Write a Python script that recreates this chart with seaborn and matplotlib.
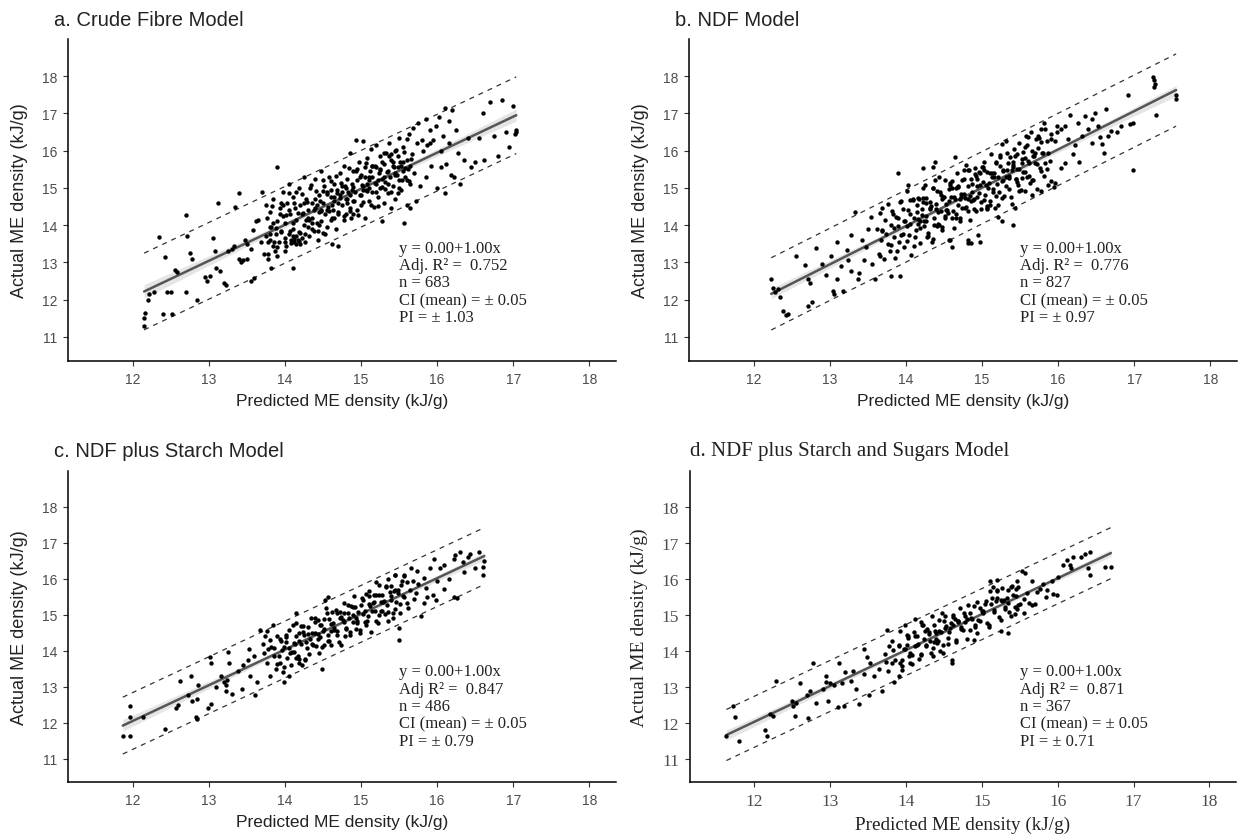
import numpy as np
import pandas as pd
import seaborn as sns
import matplotlib.pyplot as plt

# === SETTINGS ===
sns.set_theme(style="ticks")
plt.rcParams["font.family"] = ["Liberation Sans", "DejaVu Sans"]

W, H = 1241, 837
SANS = ["Liberation Sans", "DejaVu Sans"]
SERIF = ["Liberation Serif", "DejaVu Serif"]

# === DATA ===
TITLES = ["a. Crude Fibre Model", "b. NDF Model",
          "c. NDF plus Starch Model", "d. NDF plus Starch and Sugars Model"]
ADJ_TEXT = ["Adj.", "Adj.", "Adj", "Adj"]
ADJ_R2 = [0.752, 0.776, 0.847, 0.871]
N_OBS = [683, 827, 486, 367]
CI_MEAN = [0.05, 0.05, 0.05, 0.05]
PI_HALF = [1.03, 0.97, 0.79, 0.71]
INTERCEPT = [0.00, 0.00, 0.00, 0.00]
SLOPE = [1.00, 1.00, 1.00, 1.00]

X_TICKS = [12, 13, 14, 15, 16, 17, 18]
Y_TICKS = [11, 12, 13, 14, 15, 16, 17, 18]

# (predicted, actual) ME density, kJ/g
CRUDE_FIBRE = [
    (12.15,11.28),(12.15,11.5),(12.16,11.65),(12.2,12.0),(12.22,12.15),(12.28,12.2),(12.35,13.68),(12.4,11.6),
    (12.43,13.15),(12.45,12.2),(12.5,12.2),(12.52,11.6),(12.55,12.8),(12.58,12.75),(12.7,14.28),(12.7,12.2),
    (12.72,13.7),(12.75,13.25),(12.78,13.1),(12.85,12.0),(12.95,12.6),(12.98,12.5),(13.02,12.62),(13.05,13.65),
    (13.08,13.3),(13.1,12.85),(13.12,14.6),(13.15,12.78),(13.2,12.45),(13.22,12.4),(13.25,13.3),(13.3,13.35),
    (13.33,13.45),(13.35,14.5),(13.4,14.85),(13.4,13.1),(13.42,13.0),(13.45,13.05),(13.47,13.6),(13.5,13.5),
    (13.5,13.1),(13.55,12.5),(13.55,13.35),(13.58,13.88),(13.6,12.58),(13.62,14.12),(13.65,14.15),(13.68,13.55),
    (13.7,14.9),
    (13.72,13.22),(13.75,13.7),(13.75,14.55),(13.78,13.1),(13.8,13.6),(13.8,14.35),(13.82,12.85),(13.82,13.95),
    (13.85,13.45),(13.85,14.7),(13.87,13.3),(13.88,13.75),(13.9,15.55),(13.9,14.1),(13.92,13.55),(13.93,14.45),
    (13.95,13.85),(13.97,14.25),(13.98,14.9),(14.0,13.65),(14.0,14.05),
    (14.02,13.45),(14.03,14.6),(14.05,13.75),(14.05,15.1),(14.07,14.3),(14.08,13.6),(14.1,12.85),(14.1,13.9),
    (14.1,14.75),(14.12,13.55),(14.13,14.45),(14.15,13.7),(14.15,14.15),(14.17,13.6),(14.18,15.0),(14.2,13.8),
    (14.2,14.55),(14.22,13.65),(14.23,14.3),(14.25,14.0),(14.25,15.3),(14.27,13.55),(14.28,14.7),(14.3,13.95),
    (14.3,14.4),
    (14.32,13.7),(14.33,15.0),(14.35,14.2),(14.36,14.6),(14.38,13.85),(14.4,14.45),(14.4,15.25),(14.42,14.05),
    (14.43,13.6),(14.45,14.8),(14.45,14.35),(14.47,15.45),(14.48,14.1),(14.5,14.6),(14.5,13.8),(14.52,15.05),
    (14.53,14.3),(14.55,14.9),(14.55,13.95),(14.57,14.5),(14.58,15.3),(14.6,14.15),(14.6,14.75),
    (14.62,13.5),(14.63,14.4),(14.65,15.1),(14.65,14.65),(14.67,13.9),(14.68,14.95),(14.7,13.45),(14.7,14.3),
    (14.72,15.4),(14.73,14.8),(14.75,14.55),(14.75,15.05),(14.77,14.15),(14.78,15.6),(14.8,14.7),(14.8,14.3),
    (14.82,15.25),(14.83,14.9),(14.85,14.45),(14.85,15.95),(14.87,14.2),(14.88,15.1),(14.9,14.65),(14.9,15.45),
    (14.92,14.9),(14.93,16.3),(14.95,14.4),(14.95,15.2),(14.97,15.7),(14.98,14.8),(15.0,15.35),(15.0,14.55),
    (15.02,15.05),(15.03,16.25),(15.05,14.2),(15.05,15.55),(15.07,14.95),(15.08,15.8),(15.1,15.2),(15.1,14.65),
    (15.12,15.45),(15.13,16.05),(15.15,14.9),(15.15,15.3),(15.17,14.5),(15.18,15.6),(15.2,15.1),(15.2,16.15),
    (15.22,14.75),(15.23,15.4),(15.25,15.85),(15.25,15.0),(15.27,14.1),(15.28,15.25),(15.3,15.65),(15.3,14.6),
    (15.32,15.15),(15.33,15.95),(15.35,14.85),(15.35,15.45),(15.37,16.2),(15.38,15.3),(15.4,14.45),(15.4,15.75),
    (15.42,15.05),(15.43,15.55),(15.45,16.0),(15.45,14.7),(15.47,15.35),(15.48,15.85),(15.5,15.2),(15.5,16.35),
    (15.52,15.6),(15.53,14.95),(15.55,15.45),(15.55,16.1),(15.57,14.05),(15.58,15.3),(15.6,15.75),(15.6,14.55),
    (15.62,15.5),(15.63,16.45),(15.65,15.1),(15.65,14.45),(15.67,15.9),(15.68,16.6),(15.7,15.4),(15.72,14.65),
    (15.73,16.2),(15.75,16.75),
    (13.85,14.05),(13.9,13.4),(13.95,14.6),(14.0,13.3),(14.05,14.4),(14.1,13.7),(14.15,14.9),(14.2,13.5),
    (14.25,14.6),(14.3,14.2),(14.35,13.9),(14.4,14.7),(14.45,14.0),(14.5,15.2),(14.55,14.4),(14.6,14.95),
    (14.65,14.2),(14.7,14.6),(14.75,14.9),(14.8,15.0),(14.85,14.8),(14.9,14.3),(14.95,15.5),(15.0,14.8),
    (15.05,15.3),(15.1,15.0),(15.15,15.6),(15.2,14.9),(15.25,15.5),(15.3,15.3),(15.35,15.1),(15.4,15.9),
    (15.45,15.4),(15.5,15.0),(15.55,15.7),(15.6,15.2),(15.65,15.6),(14.12,13.62),(14.18,13.58),(14.08,13.52),
    (13.8,13.75),(13.78,13.55),(14.42,14.55),(14.62,14.55),(14.82,14.6),(15.02,14.95),(15.22,15.2),(15.42,15.6),
    (14.28,14.15),(14.48,14.4),(14.68,14.85),(14.88,14.95),(15.08,15.1),(15.28,15.7),(15.48,15.55),
    (13.76,14.18),(13.78,13.22),(13.81,13.94),(13.83,14.51),(13.86,13.55),(13.88,13.93),(13.90,13.18),(13.93,14.30),
    (13.95,13.81),(13.98,14.53),(14.00,13.55),(14.02,14.26),(14.05,14.86),(14.07,13.85),(14.10,14.07),(14.12,14.59),
    (14.14,13.50),(14.17,14.33),(14.19,13.81),(14.22,14.83),(14.24,14.33),(14.26,13.75),(14.29,14.62),(14.31,14.14),
    (14.34,15.08),(14.36,14.07),(14.38,14.40),(14.41,14.91),(14.43,13.83),(14.46,14.66),(14.48,14.39),(14.50,14.93),
    (14.53,13.75),(14.55,14.83),(14.58,14.38),(14.60,15.18),(14.62,14.20),(14.65,14.76),(14.67,15.33),(14.70,14.36),
    (14.72,14.72),(14.74,15.13),(14.77,14.24),(14.79,15.04),(14.82,14.70),(14.84,15.54),(14.86,14.39),(14.89,15.03),
    (14.91,14.64),(14.94,15.46),(14.96,14.28),(14.98,15.28),(15.01,15.08),(15.03,14.63),(15.06,15.66),(15.08,14.93),
    (15.10,15.29),(15.13,14.55),(15.15,15.60),(15.18,15.12),(15.20,15.55),(15.22,14.52),(15.25,15.47),(15.27,15.02),
    (15.30,15.93),(15.32,14.96),(15.34,15.44),(15.37,15.85),(15.39,14.89),(15.42,15.69),(15.44,15.34),(15.46,16.02),
    (15.49,14.87),(15.51,15.69),(15.54,15.22),(15.56,15.96),(15.58,15.54),(15.61,16.32),(15.63,15.19),(15.66,15.78),
    (15.78,15.05),(15.8,16.3),(15.82,16.0),(15.85,16.85),(15.87,16.15),(15.9,16.55),(15.92,15.6),(15.95,16.3),
    (15.98,16.65),(16.0,15.0),(16.02,16.9),(16.05,16.0),(16.08,16.4),(16.1,14.85),(16.1,17.15),(16.12,15.65),
    (16.15,16.2),(16.18,15.35),(16.2,17.1),(16.22,15.3),(16.25,16.55),(16.28,15.95),(16.3,15.1),(16.35,15.75),
    (16.4,16.35),(16.45,15.55),(16.5,15.7),(16.55,16.35),(16.6,17.0),(16.62,15.75),(16.7,17.3),(16.75,16.4),
    (16.8,15.85),(16.85,17.35),(16.9,16.5),(16.95,16.1),(17.0,17.2),(17.02,16.45),(17.03,16.55),(17.04,16.5),
    (15.9,16.2),(16.05,15.55),(15.85,15.3),(16.15,16.8),
]

NDF = [
    (12.23,12.54),(12.25,12.3),(12.28,12.2),(12.32,12.28),(12.34,12.06),(12.39,11.68),(12.43,11.58),(12.45,11.62),
    (12.56,13.17),(12.67,12.94),(12.71,12.54),(12.74,12.45),(12.71,11.84),(12.76,11.93),(12.82,13.38),(12.95,12.67),
    (13.02,13.16),(13.04,12.24),(13.06,12.15),(13.09,12.54),(13.17,12.24),(13.22,13.33),(13.24,13.07),(13.28,12.76),
    (13.28,13.73),(13.33,14.34),(13.37,12.54),(13.39,12.72),(13.42,13.6),(13.48,13.42),(13.54,14.21),(13.59,12.54),
    (13.66,13.16),(13.68,14.47),(13.68,13.86),(13.81,12.63),(13.9,15.39),(13.92,12.63),(14.03,15.09),(14.25,15.09),
    (14.38,15.7),(14.36,15.57),(14.23,15.53),(14.64,15.83),(14.6,13.42),(14.82,13.51),(14.58,13.6),(13.1,13.55),
    (13.15,12.9),(12.9,12.95),(13.45,13.05),(13.5,13.9),(13.55,12.95),
    (13.62,13.90),(13.64,13.23),(13.66,14.32),(13.67,13.59),(13.69,13.84),(13.71,13.09),(13.72,14.15),(13.74,13.76),
    (13.76,13.49),(13.77,14.58),(13.79,13.30),(13.81,14.00),(13.82,14.39),(13.84,13.69),(13.86,13.13),(13.87,14.22),
    (13.89,13.98),(13.91,13.55),(13.92,14.63),(13.94,13.73),(13.96,14.44),(13.97,13.42),(13.99,14.11),(14.01,14.93),
    (14.02,13.98),(14.04,13.73),(14.06,14.31),(14.07,13.19),(14.09,14.70),(14.11,14.18),(14.12,13.68),(14.14,14.53),
    (14.16,14.04),(14.17,14.71),(14.19,13.52),(14.21,14.42),(14.22,14.99),(14.24,13.98),(14.26,14.24),(14.27,14.73),
    (14.29,13.71),(14.31,14.62),(14.32,14.45),(14.34,13.55),(14.36,15.00),(14.37,14.18),(14.39,14.42),(14.41,14.93),
    (14.42,14.04),(14.44,15.30),(14.46,14.37),(14.47,13.96),(14.49,14.76),(14.51,15.20),(14.52,14.19),(14.54,14.40),
    (14.56,14.97),(14.57,13.61),(14.59,14.76),(14.61,15.19),(14.62,14.39),(14.64,14.70),(14.66,14.19),(14.67,15.41),
    (14.69,15.02),(14.71,14.10),(14.72,14.83),(14.74,14.45),(14.76,15.25),(14.77,14.72),(14.79,15.62),(14.81,14.39),
    (14.82,15.04),(14.84,14.15),(14.86,15.23),(14.87,14.88),(14.89,14.71),(14.91,15.53),(14.92,14.39),(14.94,15.23),
    (14.96,14.85),(14.97,15.41),(14.99,14.62),(15.01,15.15),(15.02,15.70),(15.04,14.80),(15.06,14.42),(15.07,15.43),
    (15.09,15.13),(15.11,14.66),(15.12,15.91),(15.14,14.98),(15.16,15.40),(15.17,14.46),(15.19,15.70),(15.21,15.29),
    (15.22,14.88),(15.24,15.83),(15.26,15.19),(15.27,15.45),(15.29,14.77),(15.31,16.25),(15.32,15.04),(15.34,15.66),
    (15.36,15.26),(15.37,15.84),(15.39,14.56),(15.41,15.57),(15.42,16.05),(15.44,15.24),(15.46,15.51),(15.47,15.08),
    (15.49,16.21),(15.51,14.94),(15.52,15.78),(15.54,15.96),(15.56,15.43),(15.57,14.91),(15.59,16.14),(15.61,15.71),
    (15.62,15.32),(15.64,16.51),(15.66,15.20),(15.67,15.87),(15.69,15.68),(15.71,16.31),(15.72,14.98),(15.74,16.08),
    (15.76,15.54),(15.77,16.22),(15.79,15.93),(15.81,15.31),(15.83,16.59),(15.85,15.50),(15.87,15.94),(15.89,15.73),
    (15.91,16.44),(15.94,15.03),(15.96,16.26),(15.99,16.65),
    (14.13,13.88),(14.18,14.12),(14.23,14.63),(14.28,13.68),(14.33,14.51),(14.38,15.22),(14.43,14.00),(14.48,14.71),
    (14.53,14.41),(14.58,15.08),(14.63,13.93),(14.68,15.06),(14.73,14.76),(14.78,14.46),(14.83,15.48),(14.88,14.68),
    (14.93,15.05),(14.98,14.43),(15.03,15.49),(15.08,15.00),(15.13,15.41),(15.18,14.77),(15.23,15.89),(15.28,15.20),
    (15.33,15.48),(15.38,14.76),(15.43,15.86),(15.48,15.50),(15.53,15.26),(15.58,16.39),(15.63,15.14),(15.68,15.87),
    (14.16,14.73),(14.26,14.11),(14.36,13.63),(14.46,14.81),(14.56,14.65),(14.66,14.30),(14.76,15.47),(14.86,14.65),
    (14.96,15.44),(15.06,14.51),(15.16,15.28),(15.26,16.18),(15.36,15.32),(15.46,15.15),(15.56,15.81),(14.06,14.67),
    (14.21,14.28),(14.41,13.97),(14.61,15.0),(14.81,14.69),(15.01,15.55),(15.21,14.54),(15.41,15.62),(15.61,16.38),
    (14.51,14.25),(14.71,14.69),(14.91,15.37),(15.11,14.53),
    (13.80,13.47),(13.83,14.31),(13.85,13.91),(13.88,13.31),(13.90,14.19),(13.93,14.64),(13.96,13.77),(13.98,14.12),
    (14.01,13.57),(14.03,14.41),(14.06,14.04),(14.09,14.68),(14.11,13.45),(14.14,14.35),(14.16,14.16),(14.19,13.91),
    (14.22,14.74),(14.24,14.12),(14.27,14.60),(14.29,13.80),(14.32,14.42),(14.35,14.99),(14.37,14.00),(14.40,14.57),
    (14.42,14.34),(14.45,14.89),(14.48,13.88),(14.50,14.76),(14.53,14.56),(14.55,14.32),(14.58,15.14),(14.61,14.20),
    (14.63,14.75),(14.66,15.01),(14.68,14.53),(14.71,14.19),(14.74,15.21),(14.76,14.84),(14.79,14.49),(14.81,15.49),
    (14.84,14.79),(14.87,15.10),(14.89,14.43),(14.92,15.32),(14.94,14.76),(14.97,15.08),(15.00,15.57),(15.02,14.67),
    (15.05,15.07),(15.07,14.45),(15.10,15.41),(15.13,15.28),(15.15,14.90),(15.18,15.68),(15.20,15.10),(15.23,15.60),
    (15.26,14.72),(15.28,15.47),(15.31,15.28),(15.33,15.95),(15.36,14.97),(15.39,15.48),(15.41,15.69),(15.44,15.24),
    (15.46,15.91),(15.49,14.91),(15.52,15.68),(15.54,15.43),(15.57,16.10),(15.59,15.30),(15.62,15.67),(15.65,15.99),
    (15.67,15.20),(15.70,15.94),(15.72,15.65),(15.75,16.35),(15.78,15.46),(15.80,15.93),(15.83,15.67),(15.85,16.27),
    (17.25,17.98),(17.26,17.9),(17.27,17.8),(17.26,17.72),(17.55,17.5),(17.55,17.38),(17.29,16.97),(16.92,17.5),
    (16.98,16.75),(16.94,16.71),(16.83,16.67),(16.7,16.53),(16.66,16.4),(16.57,16.18),(16.55,16.36),(16.98,15.48),
    (16.77,16.49),(16.48,17.02),(16.63,17.11),(16.52,16.67),(16.35,16.93),(16.44,16.84),(16.39,16.58),(16.26,16.75),
    (16.31,16.4),(16.22,16.14),(16.09,16.67),(16.04,16.58),(16.13,16.32),(15.98,16.49),(15.91,16.32),(15.82,16.75),
    (15.78,16.58),(15.74,16.4),(16.28,15.7),(16.09,15.66),(16.04,15.53),(15.91,15.18),(15.96,15.13),(15.87,15.09),
    (15.78,14.91),(15.65,14.82),(15.43,14.47),(15.41,13.99),(15.21,14.21),(15.26,14.12),(14.95,13.73),(14.97,13.55),
    (14.86,13.51),(14.82,13.6),(16.15,16.95),(16.45,16.2),(16.6,15.95),(16.2,15.9),
]

NDF_STARCH = [
    (11.87,11.62),(11.96,11.62),(11.97,12.47),(11.97,12.16),(12.14,12.17),(12.43,11.83),(12.62,13.15),(12.57,12.42),
    (12.59,12.5),(12.73,12.78),(12.78,12.6),(12.76,13.3),(12.86,13.06),(12.83,12.16),(12.84,12.09),(12.99,12.42),
    (13.03,12.53),(13.01,13.83),(13.03,13.66),(13.25,13.97),(13.26,13.66),(13.16,13.3),(13.2,13.13),(13.22,12.87),
    (13.39,13.43),(13.43,12.95),(13.51,13.74),(13.54,13.3),(13.53,14.05),(13.63,13.13),(13.61,12.78),(13.67,14.58),
    (13.76,13.66),(13.8,13.3),(13.93,13.66),(13.99,13.13),(14.05,13.3),(14.14,15.06),(14.19,13.66),(14.49,13.48),
    (14.53,15.41),(14.57,15.5),(13.24,13.2),(13.23,13.05),(12.85,12.65),(13.1,13.0),(13.45,13.6),(13.6,13.85),
    (13.3,12.8),
    (13.71,14.19),(13.74,14.4),(13.77,14.55),(13.8,14.3),(13.84,14.72),(13.73,13.95),(13.78,14.05),(13.82,14.1),
    (13.86,13.85),
    (13.86,14.07),(13.88,13.50),(13.90,14.42),(13.92,13.85),(13.95,14.28),(13.97,13.42),(13.99,14.11),(14.01,14.45),
    (14.03,13.81),(14.06,14.09),(14.08,13.61),(14.10,14.71),(14.12,13.97),(14.14,14.41),(14.17,13.86),(14.19,14.27),
    (14.21,14.70),(14.23,13.61),(14.25,14.43),(14.28,14.25),(14.30,14.67),(14.32,13.90),(14.34,14.90),(14.36,14.18),
    (14.39,14.49),(14.41,14.12),(14.43,14.85),(14.45,13.94),(14.47,14.71),(14.50,14.55),(14.52,14.16),(14.54,15.18),
    (14.56,14.45),(14.58,14.88),(14.61,14.16),(14.63,14.78),(14.65,14.63),(14.67,15.14),(14.69,14.44),(14.72,15.07),
    (14.74,14.16),(14.76,14.85),(14.78,15.33),(14.80,14.60),(14.83,15.05),(14.85,14.45),(14.87,15.25),(14.89,14.80),
    (14.91,15.51),(14.94,14.61),(14.96,15.09),(14.98,14.49),(15.00,15.28),(15.02,15.03),(15.05,14.81),(15.07,15.58),
    (15.09,14.96),(15.11,15.51),(15.13,14.53),(15.16,15.33),(15.18,15.12),(15.20,15.54),(15.22,14.78),(15.24,15.82),
    (15.27,15.10),(15.29,15.36),(15.31,15.01),(15.33,15.78),(15.35,14.82),(15.38,15.63),(15.40,15.51),(15.42,15.04),
    (15.44,16.12),(15.46,15.36),(15.49,15.68),(15.51,15.04),(15.53,15.84),(15.55,15.51),(15.57,16.07),(15.60,15.33),
    (14.02,14.37),(14.07,13.95),(14.13,14.18),(14.18,13.77),(14.24,14.53),(14.29,14.08),(14.35,14.49),(14.40,14.92),
    (14.46,14.38),(14.51,14.87),(14.57,14.28),(14.62,15.07),(14.68,14.54),(14.73,14.92),(14.79,14.42),(14.84,14.90),
    (14.90,15.21),(14.95,14.77),(15.01,15.48),(15.06,14.71),(15.12,15.24),(15.17,15.56),(15.23,15.00),(15.28,15.54),
    (15.34,15.27),(15.39,15.81),(15.45,15.17),(14.15,14.77),(14.27,13.77),(14.44,14.46),(14.60,14.54),(14.77,15.04),
    (14.93,14.91),(15.10,15.30),(15.26,15.35),(15.43,15.67),
    (13.90,13.64),(13.93,14.33),(13.96,14.03),(13.99,13.54),(14.02,14.24),(14.06,14.59),(14.09,13.96),(14.12,14.22),
    (14.15,13.79),(14.18,14.49),(14.21,14.19),(14.24,14.70),(14.27,13.75),(14.30,14.47),(14.33,14.34),(14.37,14.15),
    (14.40,14.81),(14.43,14.34),(14.46,14.73),(14.49,14.10),(14.52,14.60),(14.55,15.05),(14.58,14.28),(14.61,14.75),
    (14.64,14.59),(14.68,15.04),(14.71,14.23),(14.74,14.94),(14.77,14.80),(14.80,14.62),(14.83,15.28),(14.86,14.53),
    (14.89,14.99),(14.92,15.21),(14.95,14.83),(14.99,14.57),(15.02,15.40),(15.05,15.11),(15.08,14.84),(15.11,15.66),
    (15.14,15.10),(15.17,15.36),(15.20,14.83),(15.23,15.56),(15.26,15.11),(15.30,15.39),(15.33,15.80),(15.36,15.08),
    (15.39,15.41),(15.42,14.92),(15.45,15.70),(15.48,15.60),(15.51,15.31),(15.54,15.94),(15.57,15.49),
    (16.6,16.34),(16.6,16.12),(16.62,16.5),(16.22,16.56),(16.24,16.65),(16.3,16.74),(16.41,16.6),(16.43,16.69),
    (16.34,16.47),(16.22,15.5),(16.26,15.46),(16.09,15.72),(15.87,15.5),(15.94,15.55),(15.98,15.41),(15.83,15.32),
    (15.79,14.97),(15.5,14.31),(15.5,14.62),(15.96,16.56),(16.09,16.38),(16.04,16.3),(15.91,16.3),(15.74,16.21),
    (15.83,16.03),(15.68,15.94),(15.57,16.12),(15.65,15.7),(15.7,15.45),(15.75,15.85),(15.85,15.75),(16.0,15.95),
    (16.15,16.0),(16.35,16.2),(16.5,16.3),(16.55,16.75),(15.62,15.2),(15.72,15.6),(15.6,15.9),(15.66,16.3),
    (15.2,15.9),(15.35,16.0),(15.45,16.1),
]

NDF_STARCH_SUGARS = [
    (11.63,11.62),(11.72,12.47),(11.74,12.16),(11.79,11.5),(12.14,11.81),(12.16,11.63),(12.25,12.18),(12.29,13.17),
    (12.49,12.6),(12.51,12.47),(12.53,12.18),(12.6,13.09),(12.69,12.78),(12.7,12.12),(12.73,12.87),(12.77,13.66),
    (12.81,12.56),(12.94,13.3),(12.94,13.13),(12.97,12.6),(13.05,13.04),(13.1,12.43),(13.18,12.47),(13.12,13.66),
    (13.2,13.4),(13.27,13.17),(13.34,12.95),(13.38,12.53),(13.44,14.05),(13.49,13.83),(13.53,13.66),(13.51,12.78),
    (13.57,13.3),(13.68,12.88),(13.64,13.48),(12.2,12.25),(12.55,12.55),(13.0,13.1),(13.15,13.1),(12.9,12.95),
    (13.3,13.45),(13.45,13.35),
    (13.75,14.58),(13.77,14.14),(13.81,13.66),(13.84,13.13),(13.9,13.3),(13.94,13.75),(13.92,14.54),(13.99,14.71),
    (14.03,14.36),(14.05,13.66),(14.12,14.89),(14.16,14.19),(14.2,14.8),(14.25,14.54),(14.34,14.98),(14.38,14.54),
    (14.42,14.27),(14.47,15.06),(14.51,14.62),(14.6,13.66),(14.62,14.71),(14.68,14.8),(14.77,14.98),
    (13.72,13.90),(13.76,13.43),(13.81,14.26),(13.85,13.75),(13.90,14.16),(13.94,13.46),(13.99,14.06),(14.03,14.41),
    (14.08,13.88),(14.12,14.13),(14.17,13.76),(14.21,14.73),(14.26,14.12),(14.30,14.52),(14.35,14.08),(14.39,14.50),
    (14.44,14.85),(14.48,13.95),(14.53,14.68),(14.57,14.52),(14.62,14.93),(14.66,14.29),(14.71,15.19),(14.75,14.59),
    (14.80,14.89),(14.84,14.59),(14.89,15.25),(14.93,14.49),(14.98,15.18),(15.02,15.06),(15.07,14.76),(15.11,15.66),
    (15.16,15.08),(15.20,15.47),(15.25,14.86),(15.29,15.42),(15.34,15.33),(15.38,15.78),(15.43,15.21),(15.47,15.77),
    (13.74,13.69),(13.83,14.03),(13.92,13.67),(14.01,14.16),(14.10,14.53),(14.19,13.89),(14.28,14.61),(14.37,14.25),
    (14.46,14.52),(14.55,14.19),(14.64,14.88),(14.73,14.66),(14.82,15.26),(14.91,14.72),(15.00,15.12),(15.09,14.67),
    (15.18,15.39),(15.27,15.74),(15.36,15.08),(15.45,15.53),(14.05,13.93),(14.23,14.33),(14.41,14.21),(14.59,14.78),
    (14.77,14.79),(14.95,14.85),(15.13,15.48),(15.31,15.16),(14.14,14.41),(14.32,14.27),(14.50,14.82),(14.68,14.82),
    (14.86,14.91),(15.04,15.30),
    (13.90,14.14),(13.94,13.59),(13.97,14.06),(14.01,14.44),(14.04,13.86),(14.08,13.62),(14.12,14.42),(14.15,14.17),
    (14.19,13.92),(14.22,14.71),(14.26,14.16),(14.30,14.47),(14.33,13.93),(14.37,14.72),(14.40,14.34),(14.44,14.56),
    (14.48,14.17),(14.51,14.96),(14.55,14.35),(14.58,14.63),(14.62,15.00),(14.66,14.23),(14.69,14.84),(14.73,14.61),
    (14.76,15.04),(14.80,14.32),(14.84,15.05),(14.87,14.87),(14.91,14.67),(14.94,15.35),(14.98,14.83),(15.02,15.10),
    (15.05,15.38),(15.09,14.72),(15.12,15.31),(15.16,15.13),(15.20,15.66),(15.23,14.94),(15.27,15.38),(15.30,15.21),
    (15.34,15.70),(15.38,14.97),(15.41,15.55),(15.45,15.71),(15.48,15.28),
    (16.07,16.38),(16.12,16.52),(16.16,16.38),(16.18,16.3),(16.2,16.6),(16.31,16.6),(16.36,16.69),(16.42,16.74),
    (16.42,16.12),(16.4,16.3),(16.62,16.34),(16.7,16.34),(15.92,15.94),(15.94,15.59),(15.99,15.55),(15.86,15.68),
    (15.73,15.64),(15.77,15.72),(15.66,15.94),(15.57,16.16),(15.53,16.21),(15.46,15.94),(15.4,15.81),(15.62,15.33),
    (15.66,15.28),(15.46,15.15),(15.44,15.02),(15.25,15.42),(15.33,15.46),(15.2,15.68),(15.14,15.77),(15.25,14.55),
    (15.35,14.5),(14.9,14.3),(15.1,15.95),(15.2,15.98),(15.55,15.45),(15.6,15.6),(15.7,15.3),(15.8,15.85),
    (15.85,15.5),(16.0,16.05),(15.5,15.3),(15.55,15.05),(14.6,13.75),(14.35,13.85),(14.45,14.0),
]

PANELS = [CRUDE_FIBRE, NDF, NDF_STARCH, NDF_STARCH_SUGARS]

# axes boxes in pixels: left, right, top, bottom
BOXES = [(68, 616, 40, 362), (689, 1237, 40, 362),
         (68, 616, 472, 783), (690, 1236, 472, 783)]
TITLE_POS = [(54, 20), (675, 20), (54, 452), (690, 452)]

fig = plt.figure(figsize=(W / 100, H / 100), dpi=100)

for i, pts in enumerate(PANELS):
    l, r, t, b = BOXES[i]
    ax = fig.add_axes([l / W, 1 - b / H, (r - l) / W, (b - t) / H])
    df = pd.DataFrame(pts, columns=["pred", "actual"])
    serif = i == 3
    fam = SERIF if serif else SANS

    sns.scatterplot(data=df, x="pred", y="actual", s=10, color="black",
                    linewidth=0, ax=ax, zorder=3)
    sns.regplot(data=df, x="pred", y="actual", scatter=False, ci=95,
                color="#555555", line_kws={"lw": 1.8}, ax=ax)

    # prediction interval around the fitted line
    coef = np.polyfit(df["pred"], df["actual"], 1)
    xs = np.array([df["pred"].min(), df["pred"].max()])
    fit = np.polyval(coef, xs)
    for sign in (1, -1):
        ax.plot(xs, fit + sign * PI_HALF[i], ls=(0, (4, 4)), color="#333333", lw=0.9)

    label = (f"y = {INTERCEPT[i]:.2f}+{SLOPE[i]:.2f}x\n"
             f"{ADJ_TEXT[i]} R\u00b2 =  {ADJ_R2[i]:.3f}\n"
             f"n = {N_OBS[i]}\n"
             f"CI (mean) = \u00b1 {CI_MEAN[i]:.2f}\n"
             f"PI = \u00b1 {PI_HALF[i]:.2f}")
    ax.text(15.5, 12.46, label, family=SERIF, fontsize=12, va="center",
            ha="left", linespacing=1.12, color="#222222")

    ax.set_xlim(11.15, 18.35)
    ax.set_ylim(10.35, 19.0)
    ax.set_xticks(X_TICKS)
    ax.set_yticks(Y_TICKS)
    sns.despine(ax=ax)
    for s in ("left", "bottom"):
        ax.spines[s].set_linewidth(1.1)
        ax.spines[s].set_color("black")
    ax.tick_params(direction="out", length=3.8, width=0.8, color="#333333",
                   labelcolor="#4d4d4d", labelsize=12.5 if serif else 10, pad=4)
    for lab in ax.get_xticklabels() + ax.get_yticklabels():
        lab.set_family(fam)
    ax.set_xlabel("Predicted ME density (kJ/g)", family=fam,
                  fontsize=13.8 if serif else 12.5, color="#222222", labelpad=5)
    ax.set_ylabel("Actual ME density (kJ/g)", family=fam,
                  fontsize=14 if serif else 13, color="#222222", labelpad=10)

    tx, ty = TITLE_POS[i]
    fig.text(tx / W, 1 - ty / H, TITLES[i], family=fam,
             fontsize=15 if serif else 14.5, va="center", ha="left", color="#222222")

fig.savefig("out.png", dpi=100, facecolor="white")
